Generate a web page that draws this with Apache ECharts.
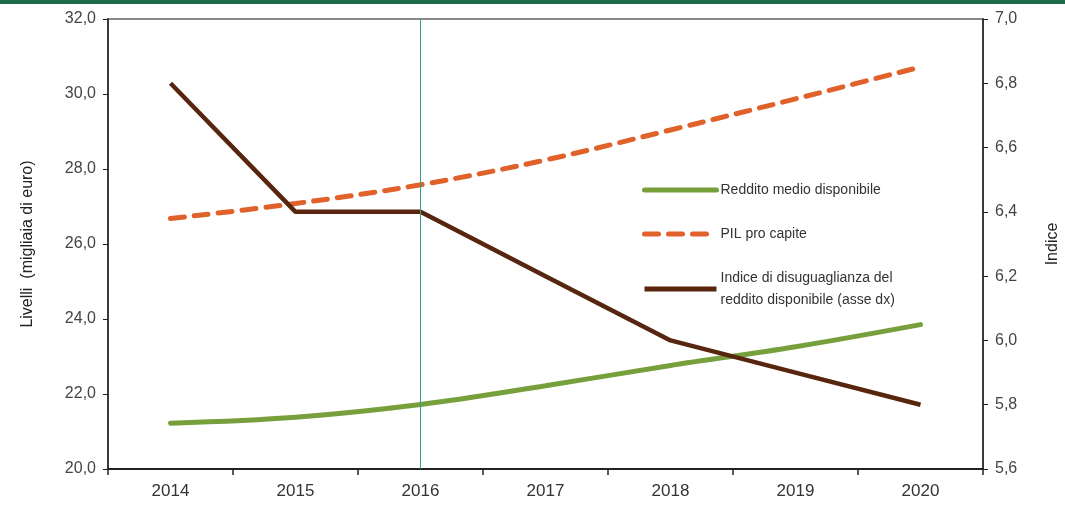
<!DOCTYPE html>
<html><head><meta charset="utf-8">
<script src="https://cdn.jsdelivr.net/npm/echarts@6/dist/echarts.min.js"></script>
<style>html,body{margin:0;padding:0;background:#fff}#c{width:1065px;height:507px}#band{position:absolute;left:0;top:0;width:1065px;height:4px;background:#1d6b48}</style>
</head><body><div id="band"></div><div id="c"></div>
<script>
const years = ['2014','2015','2016','2017','2018','2019','2020'];
const redditoMedio = [21.22, 21.38, 21.72, 22.22, 22.76, 23.26, 23.85];
const pilProCapite = [26.68, 27.08, 27.58, 28.24, 29.04, 29.87, 30.72];
const indiceDisug = [6.8, 6.4, 6.4, 6.2, 6.0, 5.9, 5.8];
const leftTicks = {min: 20, max: 32, interval: 2};
const rightTicks = {min: 5.6, max: 7.0, interval: 0.2};
const names = ['Reddito medio disponibile', 'PIL pro capite', 'Indice di disuguaglianza del reddito disponibile (asse dx)'];
const legendLabels = {};
legendLabels[names[0]] = 'Reddito medio disponibile';
legendLabels[names[1]] = 'PIL pro capite';
legendLabels[names[2]] = 'Indice di disuguaglianza del\nreddito disponibile (asse dx)';
const markYear = '2016';

const font = '"Liberation Sans", Arial, sans-serif';
const chart = echarts.init(document.getElementById('c'));
chart.setOption({
  animation: false,
  grid: {left: 108, right: 82, top: 19, bottom: 38, show: true, borderColor: '#888', borderWidth: 2, outerBoundsMode: 'none', containLabel: false},
  legend: {
    orient: 'vertical', left: 637, top: 174, itemWidth: 72, itemHeight: 12, itemGap: 22,
    data: names,
    formatter: n => legendLabels[n],
    itemStyle: {opacity: 0},
    lineStyle: {width: 5},
    textStyle: {fontFamily: font, fontSize: 14, color: '#333', lineHeight: 22, padding: [0, 0, 0, -1]}
  },
  xAxis: {
    type: 'category', data: years, boundaryGap: true,
    axisLine: {lineStyle: {color: '#222', width: 2}},
    axisTick: {show: true, length: 6, lineStyle: {color: '#222', width: 1.5}},
    axisLabel: {fontFamily: '"Liberation Sans Narrow", "Liberation Sans", sans-serif', fontSize: 17, color: '#333', margin: 14}
  },
  yAxis: [{
    type: 'value', min: leftTicks.min, max: leftTicks.max, interval: leftTicks.interval, position: 'left',
    name: 'Livelli  (migliaia di euro)', nameLocation: 'middle', nameGap: 72,
    nameTextStyle: {fontFamily: font, fontSize: 16, color: '#222'},
    axisLine: {show: true, lineStyle: {color: '#222', width: 1.5}},
    axisTick: {show: true, length: 5, lineStyle: {color: '#222'}},
    splitLine: {show: false},
    axisLabel: {fontFamily: font, fontSize: 16, color: '#444', margin: 12, formatter: v => v.toFixed(1).replace('.', ',')}
  }, {
    type: 'value', min: rightTicks.min, max: rightTicks.max, interval: rightTicks.interval, position: 'right',
    name: 'Indice', nameLocation: 'middle', nameGap: 62,
    nameTextStyle: {fontFamily: font, fontSize: 16, color: '#222'},
    axisLine: {show: true, lineStyle: {color: '#222', width: 1.5}},
    axisTick: {show: true, length: 5, lineStyle: {color: '#222'}},
    splitLine: {show: false},
    axisLabel: {fontFamily: font, fontSize: 16, color: '#444', margin: 12, formatter: v => v.toFixed(1).replace('.', ',')}
  }],
  series: [{
    name: names[0], type: 'line', data: redditoMedio, yAxisIndex: 0, smooth: 0.35, symbol: 'none',
    lineStyle: {color: '#77a03c', width: 5, cap: 'round'}, itemStyle: {color: '#77a03c'},
    markLine: {silent: true, symbol: ['none', 'none'], label: {show: false},
      lineStyle: {color: '#3e9a8c', width: 1, type: 'solid', opacity: 1},
      data: [{xAxis: markYear, lineStyle: {color: '#3e9a8c', width: 1, type: 'solid'}}]}
  }, {
    name: names[1], type: 'line', data: pilProCapite, yAxisIndex: 0, smooth: 0.35, symbol: 'none',
    lineStyle: {color: '#e0622a', width: 5, type: [14, 10], cap: 'round'}, itemStyle: {color: '#e0622a'}
  }, {
    name: names[2], type: 'line', data: indiceDisug, yAxisIndex: 1, smooth: false, symbol: 'none',
    lineStyle: {color: '#58260e', width: 4.5}, itemStyle: {color: '#58260e'}
  }]
});
</script></body></html>
